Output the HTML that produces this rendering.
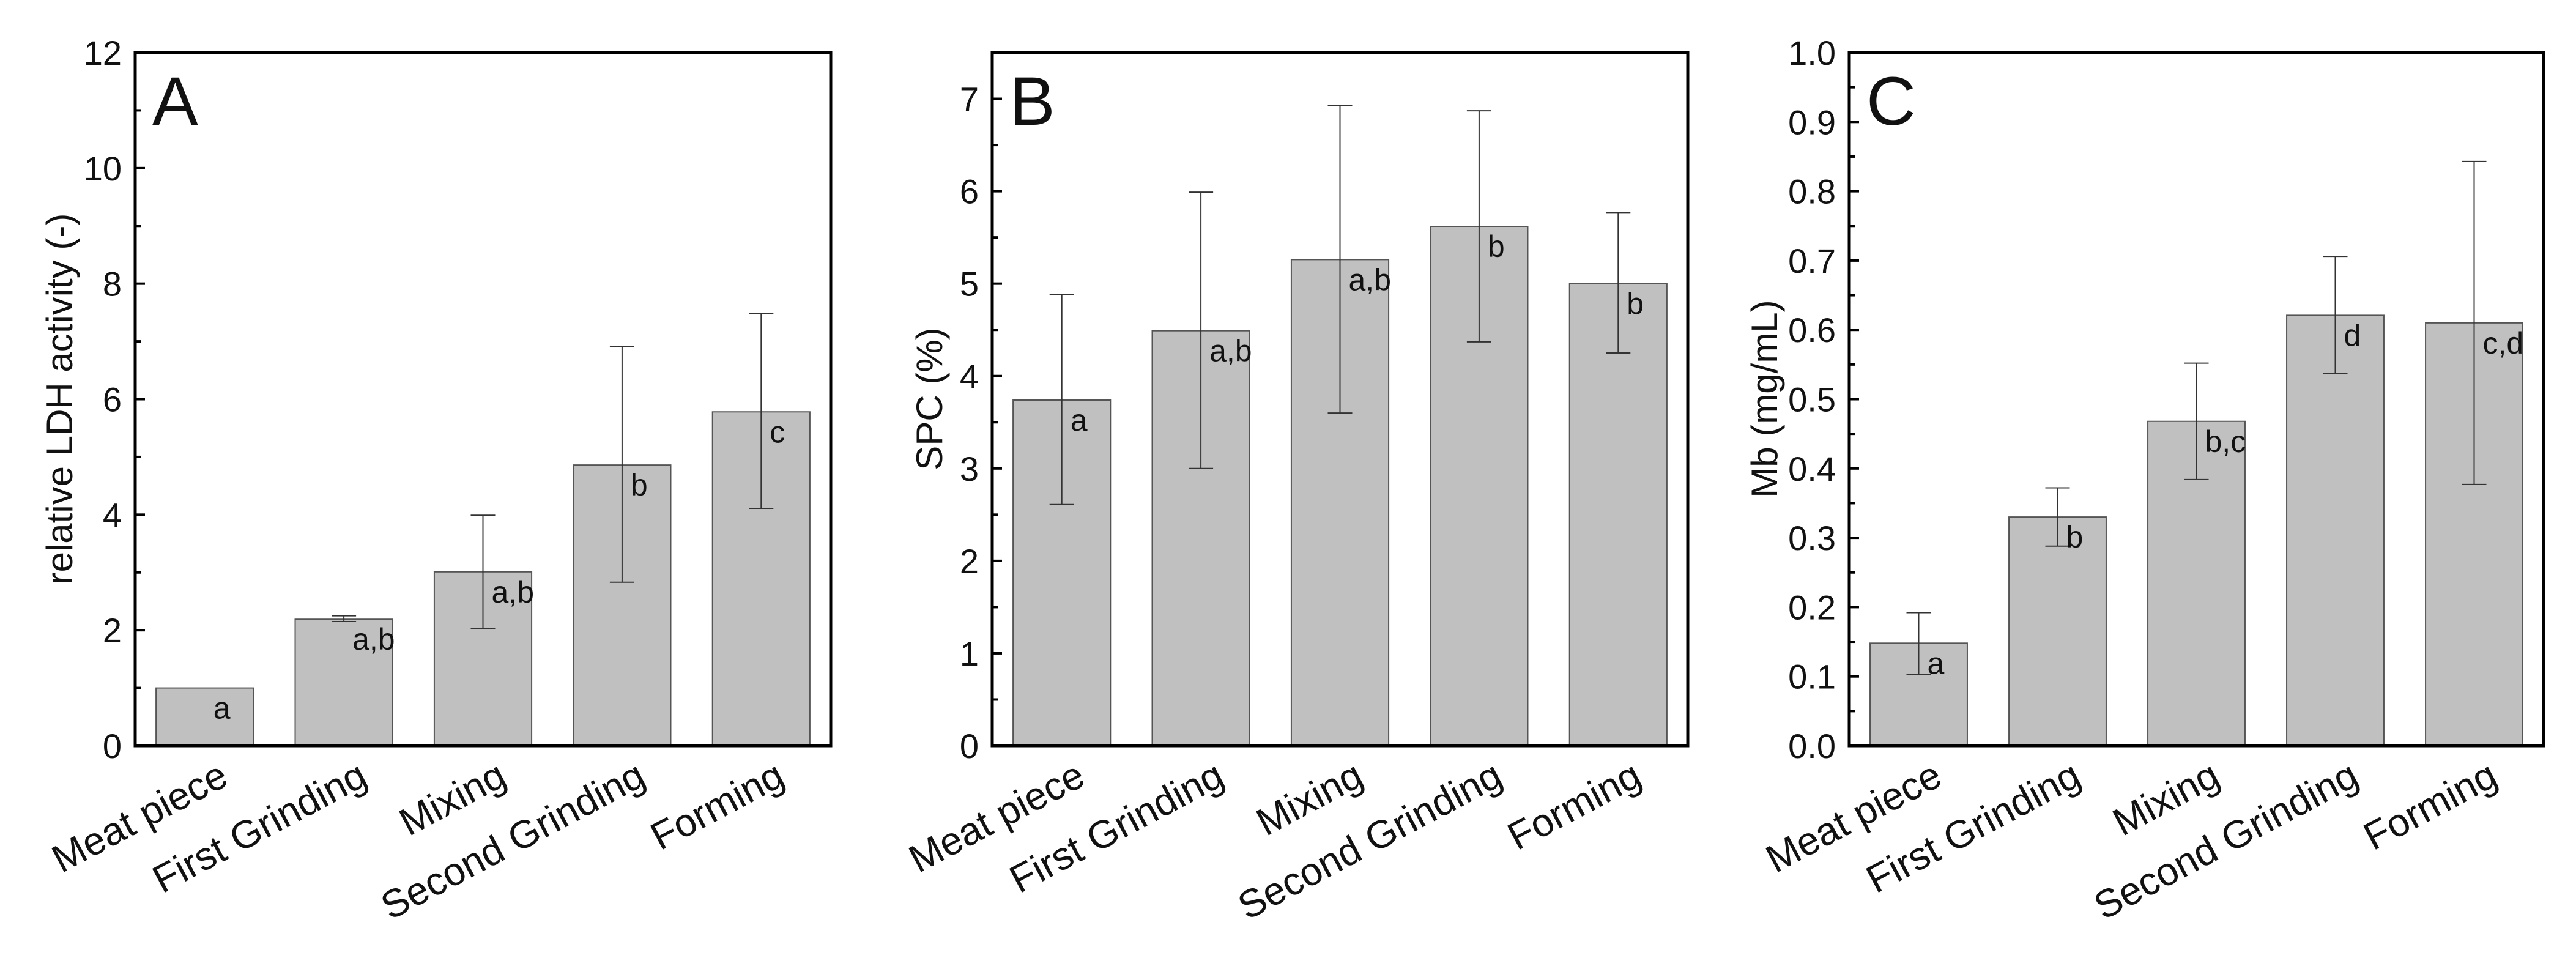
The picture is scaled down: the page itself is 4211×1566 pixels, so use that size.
<!DOCTYPE html>
<html><head><meta charset="utf-8"><style>
html,body{margin:0;padding:0;background:#fff}
svg{display:block}
text{font-family:"Liberation Sans",Arial,sans-serif;fill:#111}
</style></head><body>
<svg id="fig" width="4211" height="1566" viewBox="0 0 4211 1566" xmlns="http://www.w3.org/2000/svg"></svg>
<script>
const categories = ["Meat piece","First Grinding","Mixing","Second Grinding","Forming"];
const valuesA = [1.0, 2.19, 3.01, 4.86, 5.78];
const lowA = [1.0, 2.15, 2.03, 2.83, 4.11];
const highA = [1.0, 2.25, 3.99, 6.91, 7.48];
const lettersA = ["a","a,b","a,b","b","c"];
const ticksA = ["0","2","4","6","8","10","12"];
const valuesB = [3.74, 4.49, 5.26, 5.62, 5.0];
const lowB = [2.61, 3.0, 3.6, 4.37, 4.25];
const highB = [4.88, 5.99, 6.93, 6.87, 5.77];
const lettersB = ["a","a,b","a,b","b","b"];
const ticksB = ["0","1","2","3","4","5","6","7"];
const valuesC = [0.148, 0.33, 0.468, 0.621, 0.61];
const lowC = [0.103, 0.288, 0.384, 0.537, 0.377];
const highC = [0.192, 0.372, 0.552, 0.706, 0.843];
const lettersC = ["a","b","b,c","d","c,d"];
const ticksC = ["0.0","0.1","0.2","0.3","0.4","0.5","0.6","0.7","0.8","0.9","1.0"];

const svg = document.getElementById('fig');
const NS = 'http://www.w3.org/2000/svg';
function mk(tag, attrs, parent){
  const e = document.createElementNS(NS, tag);
  for (const k in attrs) e.setAttribute(k, attrs[k]);
  parent.appendChild(e);
  return e;
}

function panel(cfg){
  const g = mk('g', {}, svg);
  
  
  const L = cfg.left, R = cfg.right, T = 86, B = 1219;
  const ymax = cfg.ymax;
  const y = v => B - (v / ymax) * (B - T);
  const bw = (R - L) / categories.length;
  const x = i => L + bw * (i + 0.5);
  for (let i = 0; i < categories.length; i++){
    const bar = mk('rect', {x: x(i) - bw*0.35, y: y(cfg.vals[i]), width: bw*0.7, height: B - y(cfg.vals[i]), fill:'#c0c0c0', stroke:'#555', 'stroke-width':2}, g);
    
    
    if (cfg.high[i] !== cfg.low[i]) {
      const eb = mk('g', {stroke:'#333', 'stroke-width':2}, g);
      
      
      mk('line', {x1:x(i), x2:x(i), y1:y(cfg.high[i]), y2:y(cfg.low[i])}, eb);
      mk('line', {x1:x(i)-20, x2:x(i)+20, y1:y(cfg.high[i]), y2:y(cfg.high[i])}, eb);
      mk('line', {x1:x(i)-20, x2:x(i)+20, y1:y(cfg.low[i]), y2:y(cfg.low[i])}, eb);
    }
    const lt = mk('text', {x: x(i) + 14, y: y(cfg.vals[i]) + 50, 'font-size':50}, g);
    lt.textContent = cfg.letters[i];
    
    
    const ax = x(i) + 42, ay = B + 62;
    const ct = mk('text', {x: ax, y: ay, 'font-size':64, 'text-anchor':'end', transform:'rotate(-28 ' + ax + ' ' + ay + ')'}, g);
    ct.textContent = categories[i];
    
    
  }
  const n = cfg.ticks.length;
  for (let k = 0; k < n; k++){
    const tv = parseFloat(cfg.ticks[k]);
    mk('line', {x1:L, x2:L+16, y1:y(tv), y2:y(tv), stroke:'#000', 'stroke-width':4}, g);
    const tl = mk('text', {x: L - 22, y: y(tv) + 20, 'font-size':56, 'text-anchor':'end'}, g);
    tl.textContent = cfg.ticks[k];
    
    
    if (k < n - 1) {
      const mv = (tv + parseFloat(cfg.ticks[k+1])) / 2;
      mk('line', {x1:L, x2:L+9, y1:y(mv), y2:y(mv), stroke:'#000', 'stroke-width':4}, g);
    } else if (cfg.extraMinor) {
      const mv = tv + (tv - parseFloat(cfg.ticks[k-1])) / 2;
      if (mv < ymax) mk('line', {x1:L, x2:L+9, y1:y(mv), y2:y(mv), stroke:'#000', 'stroke-width':4}, g);
    }
  }
  const frame = mk('rect', {x:L, y:T, width:R-L, height:B-T, fill:'none', stroke:'#000', 'stroke-width':5}, g);
  
  
  const pl = mk('text', {x: L + 28, y: T + 118, 'font-size':112}, g);
  pl.textContent = cfg.id;
  
  
  const yt = mk('text', {x: cfg.titleX, y: 652, 'font-size':60, 'text-anchor':'middle', transform:'rotate(-90 ' + cfg.titleX + ' 652)'}, g);
  yt.textContent = cfg.title;
  
  
}

panel({id:'A', left:221, right:1358, ymax:12, vals:valuesA, low:lowA, high:highA, letters:lettersA, ticks:ticksA, title:'relative LDH activity (-)', titleX:118});
panel({id:'B', left:1622, right:2759, ymax:7.5, vals:valuesB, low:lowB, high:highB, letters:lettersB, ticks:ticksB, title:'SPC (%)', titleX:1540, extraMinor:true});
panel({id:'C', left:3023, right:4158, ymax:1.0, vals:valuesC, low:lowC, high:highC, letters:lettersC, ticks:ticksC, title:'Mb (mg/mL)', titleX:2905});
</script>
</body></html>
